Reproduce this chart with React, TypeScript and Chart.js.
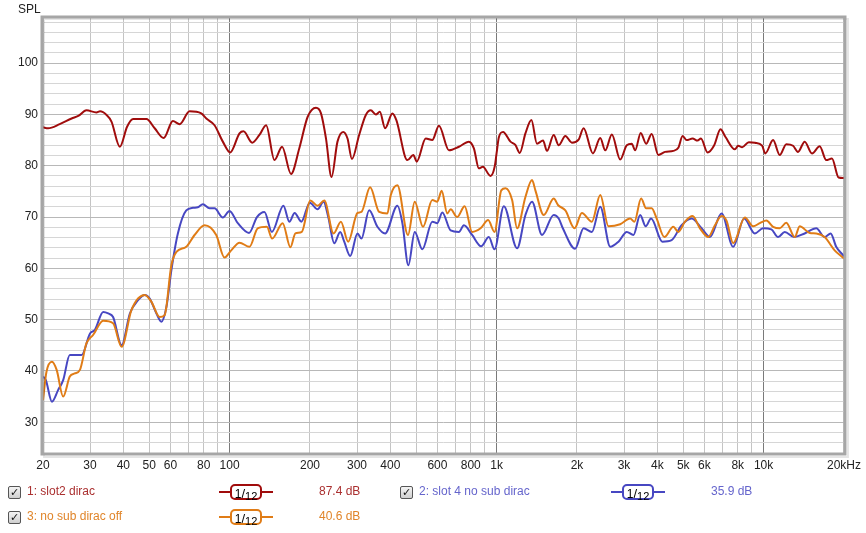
import React, { useEffect, useRef } from "react";
import { Chart, registerables } from "chart.js";
Chart.register(...registerables);

// ---------- data ----------
const redFreq = [20, 20.9, 23.1, 25.6, 27.1, 29.1, 31.7, 32.7, 34.6, 36.1, 38.8, 41.3, 43.5, 48.8, 52.4, 56.6, 61.3, 65, 70.8, 78.3, 81.8, 87.8, 94.3, 100.5, 108.9, 112.7, 121.5, 129.3, 137, 147.2, 157.2, 169.8, 182.4, 195.9, 210.6, 219.9, 229.6, 240.8, 253.5, 266.3, 276.4, 287.1, 305.6, 323.7, 337.9, 352.8, 365.2, 382.2, 407, 421.2, 463.1, 487.6, 502.1, 542.6, 574.1, 608.1, 662.9, 722.3, 787.4, 821.9, 857.9, 888.1, 948.7, 985, 1000, 1019, 1057, 1127, 1177, 1221, 1282, 1350, 1416, 1492, 1544, 1636, 1708, 1809, 1914, 2028, 2117, 2294, 2444, 2552, 2701, 2903, 3072, 3207, 3302, 3465, 3630, 3808, 4034, 4274, 4590, 4792, 4973, 5147, 5420, 5657, 5825, 6166, 6531, 6895, 7198, 7806, 8030, 8311, 8803, 9268, 9869, 10150, 10850, 11490, 12160, 12890, 13450, 14250, 15180, 16220, 17160, 18030, 19090, 20000];
const redDb = [87.5, 87.3, 88.1, 89.2, 89.7, 90.8, 90.4, 90.6, 89.9, 88.6, 83.7, 87.6, 89.1, 89.1, 87.3, 85.4, 88.7, 88.1, 90.6, 90.2, 89.2, 87.9, 84.7, 82.6, 86.3, 86.7, 84.5, 86.0, 87.9, 81.1, 83.7, 78.4, 83.4, 89.5, 91.3, 90.2, 85.3, 77.8, 84.7, 86.6, 85.3, 81.3, 86.0, 89.9, 90.8, 90.0, 90.5, 87.3, 90.2, 88.9, 81.1, 82.1, 80.8, 85.3, 85.0, 87.8, 83.0, 83.7, 84.7, 83.4, 79.5, 79.8, 78.0, 80.0, 82.5, 85.5, 86.6, 84.7, 84.0, 82.5, 86.3, 88.9, 84.3, 84.9, 82.9, 86.0, 84.0, 85.8, 84.5, 85.1, 87.3, 82.4, 85.4, 83.0, 86.1, 81.2, 84.0, 84.3, 83.0, 86.4, 84.3, 86.2, 82.1, 82.7, 82.9, 83.5, 85.8, 85.0, 85.3, 84.9, 85.3, 82.6, 84.0, 87.1, 85.6, 83.2, 83.9, 83.6, 84.6, 84.5, 83.9, 82.4, 85.0, 82.1, 84.2, 83.9, 82.7, 84.7, 82.4, 83.8, 81.1, 81.4, 77.7, 77.6];

const blueFreq = [20, 20.5, 21.6, 22.8, 23.8, 25.2, 27.9, 30.0, 31.3, 33.6, 35.1, 36.6, 39.4, 42.3, 45.4, 48.1, 50.2, 53.2, 55.5, 58.0, 60.5, 64.0, 68.8, 72.9, 76.0, 79.4, 84.1, 87.8, 94.3, 99.9, 107.3, 118.2, 126.6, 135, 144, 159, 167.4, 175.2, 185.6, 199.7, 213.5, 224.8, 234.1, 246.5, 259.5, 268.7, 282.9, 301.2, 311.7, 333.1, 357.7, 382.2, 424.9, 443.7, 467.1, 493.5, 526.9, 574.1, 599.5, 625.8, 672.6, 722.3, 754.2, 809.6, 875, 935, 982, 1064, 1193, 1282, 1357, 1479, 1636, 1708, 1770, 1967, 2117, 2274, 2444, 2664, 2861, 3072, 3255, 3448, 3617, 3789, 4176, 4523, 4931, 5374, 5856, 6295, 6958, 7690, 8455, 9268, 9954, 10690, 11330, 12000, 13000, 14250, 15750, 16930, 17830, 18700, 19810, 20000];
const blueDb = [38.9, 38.2, 34.0, 36.3, 38.2, 43.1, 43.1, 47.3, 48.0, 51.5, 51.2, 50.5, 45.0, 51.2, 53.8, 54.8, 54.1, 51.2, 49.6, 52.5, 59.6, 66.8, 71.3, 71.8, 71.9, 72.5, 71.7, 71.7, 69.9, 71.2, 68.8, 66.9, 70.0, 71.0, 67.1, 72.2, 69.1, 70.8, 69.1, 72.8, 71.5, 73.0, 70.0, 64.9, 67.1, 65.2, 62.4, 66.8, 65.8, 71.3, 68.1, 66.8, 72.2, 68.8, 60.6, 67.1, 63.7, 69.1, 68.8, 70.9, 67.4, 67.1, 68.4, 66.5, 64.3, 66.1, 63.7, 72.1, 63.9, 70.4, 73.0, 66.5, 70.4, 69.7, 67.8, 63.8, 67.8, 67.1, 72.0, 64.2, 65.2, 67.1, 66.5, 70.4, 68.2, 69.7, 65.2, 65.5, 68.4, 69.7, 67.8, 66.1, 70.7, 64.2, 69.7, 66.8, 67.8, 67.6, 66.1, 67.1, 66.1, 66.8, 67.8, 66.1, 66.8, 64.2, 62.6, 62.3];

const orangeFreq = [20, 20.6, 21.6, 22.5, 23.8, 25.2, 26.3, 27.5, 29.1, 30.8, 33.6, 36.6, 39.4, 42.9, 48.1, 50.9, 54.7, 57.1, 60.5, 63.2, 68.8, 73.9, 80.6, 89.1, 95.7, 101.4, 108.9, 118.7, 127.4, 137.9, 144.3, 158, 168.9, 176.3, 186.4, 200.5, 213.5, 226.2, 245, 261.1, 278, 301.2, 311.7, 335.9, 363.1, 389.9, 401.5, 424.9, 465.7, 493.5, 530, 574.1, 599.5, 622.5, 653.2, 672.6, 711.9, 758.9, 809.6, 870.6, 929.4, 982, 1041, 1080, 1143, 1193, 1282, 1357, 1397, 1501, 1636, 1700, 1809, 1959, 2086, 2274, 2444, 2624, 2903, 3163, 3282, 3477, 3630, 3808, 3976, 4248, 4590, 4792, 5077, 5420, 5776, 6202, 6572, 6958, 7261, 7690, 8506, 9135, 9677, 10240, 10850, 11490, 12160, 13080, 13650, 14880, 15750, 16930, 18450, 19810, 20000];
const orangeDb = [34.3, 39.8, 41.8, 40.2, 35.0, 38.9, 39.5, 40.2, 45.4, 47.0, 49.8, 49.3, 44.7, 51.9, 54.8, 53.5, 50.5, 50.9, 60.6, 63.2, 64.2, 66.5, 68.4, 66.5, 62.1, 63.5, 65.0, 64.2, 67.8, 68.1, 65.8, 68.8, 64.1, 66.8, 67.1, 73.2, 72.2, 73.2, 66.8, 69.1, 65.2, 70.8, 71.0, 75.8, 71.0, 70.7, 74.3, 76.2, 66.5, 73.0, 68.1, 73.3, 73.0, 75.1, 70.7, 71.5, 70.0, 72.1, 67.1, 67.8, 69.4, 67.1, 75.2, 75.6, 73.3, 67.8, 73.9, 77.2, 75.2, 70.4, 73.6, 72.3, 71.3, 67.8, 70.8, 69.1, 74.3, 68.2, 68.6, 69.7, 69.1, 73.6, 71.7, 71.7, 69.7, 66.1, 68.1, 67.1, 69.1, 70.2, 67.8, 66.1, 68.4, 70.2, 69.3, 64.9, 69.9, 68.2, 68.8, 69.3, 68.1, 67.8, 68.9, 66.1, 68.2, 66.9, 66.8, 66.1, 63.5, 62.1, 61.9];

const xGridValues = [20, 30, 40, 50, 60, 70, 80, 90, 100, 200, 300, 400, 500, 600, 700, 800, 900, 1000, 2000, 3000, 4000, 5000, 6000, 7000, 8000, 9000, 10000, 20000];
const xTickValues = [20, 30, 40, 50, 60, 80, 100, 200, 300, 400, 600, 800, 1000, 2000, 3000, 4000, 5000, 6000, 8000, 10000, 20000];
const xTickLabels = ["20", "30", "40", "50", "60", "80", "100", "200", "300", "400", "600", "800", "1k", "2k", "3k", "4k", "5k", "6k", "8k", "10k", "20kHz"];
const yTickLabels = [30, 40, 50, 60, 70, 80, 90, 100];

const legendNames = ["1: slot2 dirac", "2: slot 4 no sub dirac", "3: no sub dirac off"];
const legendLevels = ["87.4 dB", "35.9 dB", "40.6 dB"];

// ---------- styles ----------
const RED = "#a00c0c";
const BLUE = "#4747c2";
const ORANGE = "#e07c16";
const RED_TXT = "#aa3030";
const BLUE_TXT = "#6565cc";
const ORANGE_TXT = "#e0852a";
const FONT = "'Liberation Sans', Arial, sans-serif";

const framePlugin = {
  id: "frame",
  afterDraw(chart: any) {
    const { ctx, chartArea: a } = chart;
    ctx.save();
    ctx.strokeStyle = "rgba(0,0,0,0.10)";
    ctx.lineWidth = 2;
    ctx.strokeRect(a.left + 1, a.top + 1, a.right - a.left + 3, a.bottom - a.top + 3);
    ctx.strokeStyle = "#a6a6a6";
    ctx.lineWidth = 3;
    ctx.strokeRect(a.left - 1, a.top - 1, a.right - a.left + 2, a.bottom - a.top + 2);
    ctx.restore();
  },
};

function CheckBox({ left, top }: { left: number; top: number }) {
  return (
    <div
      style={{
        position: "absolute", left, top, width: 11, height: 11,
        border: "1px solid #555", borderRadius: 2,
        background: "linear-gradient(#f4f4f4, #cfcfcf)",
        fontFamily: "'DejaVu Sans', sans-serif", fontSize: 11, lineHeight: "11px",
        textAlign: "center", color: "#111", fontWeight: "bold",
      }}
    >
      ✓
    </div>
  );
}

function Smoothing({ left, top, color }: { left: number; top: number; color: string }) {
  return (
    <div style={{ position: "absolute", left, top, width: 54, height: 16 }}>
      <div style={{ position: "absolute", left: 0, top: 7, width: 54, height: 2, background: color }} />
      <div
        style={{
          position: "absolute", left: 11, top: 0, width: 28, height: 12,
          border: `2px solid ${color}`, borderRadius: 5, background: "#fff",
          fontFamily: FONT, color: "#000", whiteSpace: "nowrap", textAlign: "center",
        }}
      >
        <span style={{ fontSize: 12, position: "relative", top: -2 }}>1</span>
        <span style={{ fontSize: 13, position: "relative", top: -2 }}>/</span>
        <span style={{ fontSize: 11, position: "relative", top: 0 }}>12</span>
      </div>
    </div>
  );
}

function LegendEntry({ x, y, name, level, color, txt }: any) {
  return (
    <>
      <CheckBox left={x} top={y - 6} />
      <div style={{ position: "absolute", left: x + 19, top: y - 8, fontFamily: FONT, fontSize: 12, color: txt, whiteSpace: "nowrap" }}>{name}</div>
      <Smoothing left={x + 211} top={y - 8} color={color} />
      <div style={{ position: "absolute", left: x + 311, top: y - 8, fontFamily: FONT, fontSize: 12, color: txt, whiteSpace: "nowrap" }}>{level}</div>
    </>
  );
}

export default function App() {
  const ref = useRef<HTMLCanvasElement>(null);
  useEffect(() => {
    if (!ref.current) return;
    const mk = (fs: number[], ds: number[]) => fs.map((f, i) => ({ x: f, y: ds[i] }));
    const chart = new Chart(ref.current, {
      type: "line",
      data: {
        datasets: [
          { label: legendNames[0], data: mk(redFreq, redDb), borderColor: RED, borderWidth: 2, pointRadius: 0, cubicInterpolationMode: "monotone", order: 2 },
          { label: legendNames[1], data: mk(blueFreq, blueDb), borderColor: BLUE, borderWidth: 2, pointRadius: 0, cubicInterpolationMode: "monotone", order: 1 },
          { label: legendNames[2], data: mk(orangeFreq, orangeDb), borderColor: ORANGE, borderWidth: 2, pointRadius: 0, cubicInterpolationMode: "monotone", order: 0 },
        ],
      },
      options: {
        animation: false,
        responsive: false,
        maintainAspectRatio: false,
        devicePixelRatio: 1,
        layout: { padding: { left: 0, top: 18, right: 20, bottom: 0 } },
        plugins: { legend: { display: false }, tooltip: { enabled: false } },
        scales: {
          x: {
            type: "logarithmic",
            min: 20,
            max: 20000,
            afterBuildTicks: (s: any) => { s.ticks = xGridValues.map((v) => ({ value: v })); },
            afterFit: (s: any) => { s.height = 80; },
            ticks: {
              autoSkip: false, maxRotation: 0, minRotation: 0, padding: 5,
              color: "#222", font: { family: FONT, size: 12 },
              callback: (v: any) => { const i = xTickValues.indexOf(Number(v)); return i >= 0 ? xTickLabels[i] : ""; },
            },
            grid: {
              drawTicks: false,
              color: (c: any) => { const v = c.tick && c.tick.value; return v === 100 || v === 1000 || v === 10000 ? "#7a7a7a" : "#c4c4c4"; },
            },
            border: { display: false },
          },
          y: {
            type: "linear",
            min: 24,
            max: 108.8,
            afterBuildTicks: (s: any) => { const t = []; for (let v = 24; v <= 108; v += 2) t.push({ value: v }); s.ticks = t; },
            afterFit: (s: any) => { s.width = 43; },
            ticks: {
              autoSkip: false, padding: 5, color: "#222", font: { family: FONT, size: 12 },
              callback: (v: any) => (yTickLabels.indexOf(Number(v)) >= 0 ? String(v) : ""),
            },
            grid: {
              drawTicks: false,
              color: (c: any) => { const v = c.tick && c.tick.value; return v % 10 === 0 ? "#b8b8b8" : "#d6d6d6"; },
            },
            border: { display: false },
          },
        },
      },
      plugins: [framePlugin],
    } as any);
    return () => chart.destroy();
  }, []);

  return (
    <div style={{ position: "fixed", left: 0, top: 0, width: 866, height: 533, background: "#fff", overflow: "hidden" }}>
      <canvas ref={ref} width={866} height={533} style={{ position: "absolute", left: 0, top: 0, width: 866, height: 533 }} />
      <div style={{ position: "absolute", left: 18, top: 2, fontFamily: FONT, fontSize: 12, color: "#222" }}>SPL</div>
      <LegendEntry x={8} y={492} name={legendNames[0]} level={legendLevels[0]} color={RED} txt={RED_TXT} />
      <LegendEntry x={400} y={492} name={legendNames[1]} level={legendLevels[1]} color={BLUE} txt={BLUE_TXT} />
      <LegendEntry x={8} y={517} name={legendNames[2]} level={legendLevels[2]} color={ORANGE} txt={ORANGE_TXT} />
    </div>
  );
}
